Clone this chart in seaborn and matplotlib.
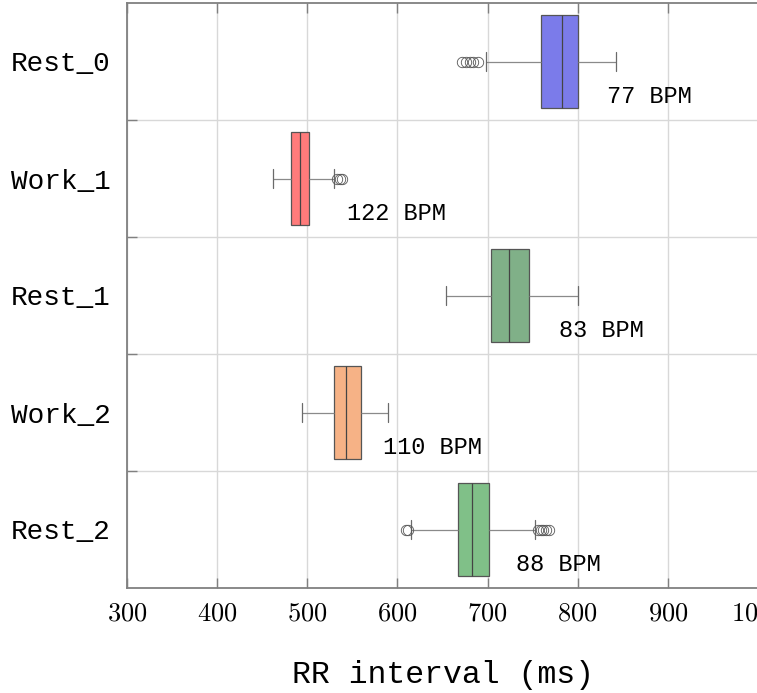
import matplotlib
matplotlib.use("Agg")
import matplotlib.pyplot as plt
import seaborn as sns
import pandas as pd
import numpy as np

# ---- data ----
categories = ["Rest_0", "Work_1", "Rest_1", "Work_2", "Rest_2"]
rest_0 = [672, 676, 680, 684, 689, 698, 759, 764, 769, 773, 777, 780, 783,
          786, 789, 792, 795, 798, 800, 806, 812, 818, 825, 833, 842]
work_1 = [462, 470, 475, 479, 482, 484, 487, 489, 491.5, 494, 496, 499, 502,
          530, 533, 536, 539]
rest_1 = [654, 680, 704, 715, 724, 736, 746, 772, 800]
work_2 = [494, 512, 530, 537, 543, 551, 560, 575, 590]
rest_2 = [610, 612, 615, 630, 645, 657, 667, 670, 673, 676, 679, 681, 682.5,
          685, 689, 693, 697, 700, 702, 753, 756, 759, 762, 765, 768]
bpm_labels = ["77 BPM", "122 BPM", "83 BPM", "110 BPM", "88 BPM"]
x_ticks = [300, 400, 500, 600, 700, 800, 900, 1000]
colors = ["#7b7bea", "#ff7b7b", "#80b088", "#f6b286", "#80c088"]

# annotation anchor (left edge of each label, in ms)
label_x = [832, 544, 779, 584.5, 732]

series = [rest_0, work_1, rest_1, work_2, rest_2]
df = pd.DataFrame({
    "phase": np.concatenate([[c] * len(s) for c, s in zip(categories, series)]),
    "rr": np.concatenate(series),
})

sns.set_style("white")
plt.rcParams["mathtext.fontset"] = "cm"
plt.rcParams["text.color"] = "black"
plt.rcParams["xtick.labelcolor"] = "black"
plt.rcParams["ytick.labelcolor"] = "black"
plt.rcParams["axes.labelcolor"] = "black"
mono = "Liberation Mono"

fig = plt.figure(figsize=(7.57, 6.93), dpi=100)
ax = fig.add_axes([127 / 757, 105 / 693, 631 / 757, 585 / 693])

sns.boxplot(
    data=df, x="rr", y="phase", order=categories, hue="phase",
    hue_order=categories, palette=colors, legend=False, saturation=1,
    width=0.8, orient="h", ax=ax, linewidth=0.9,
    boxprops=dict(edgecolor="#555555"),
    whiskerprops=dict(color="#8a8a8a"),
    capprops=dict(color="#6a6a6a"),
    medianprops=dict(color="#444444"),
    flierprops=dict(marker="o", markerfacecolor="none",
                    markeredgecolor="#555555", markersize=7.5,
                    markeredgewidth=0.6),
    capwidths=0.16,
)

ax.set_xlim(300, 1000)
ax.set_ylim(4.5, -0.5)
ax.set_xticks(x_ticks)
ax.set_xticklabels([f"${v}$" for v in x_ticks], fontsize=19, color="black")
ax.set_yticks(range(len(categories)))
ax.set_yticklabels(categories, fontsize=20, family=mono, color="black")
ax.set_yticks([0.5, 1.5, 2.5, 3.5], minor=True)

ax.grid(True, axis="x", which="major", color="#d8d8d8", linewidth=1)
ax.grid(True, axis="y", which="minor", color="#d8d8d8", linewidth=1)
ax.grid(False, axis="y", which="major")
ax.set_axisbelow(True)

ax.tick_params(axis="x", which="major", direction="in", length=7.5,
               width=1, color="#808080", top=True, bottom=True, pad=9)
ax.tick_params(axis="y", which="major", length=0, pad=12)
ax.tick_params(axis="y", which="minor", direction="in", length=7.5,
               width=1, color="#808080", left=True)
for sp in ax.spines.values():
    sp.set_color("#808080")
    sp.set_linewidth(1.3)

for i, (lx, lab) in enumerate(zip(label_x, bpm_labels)):
    ax.text(lx, i + 0.3, lab, family=mono, fontsize=17, color="black",
            ha="left", va="center")

ax.set_xlabel("RR interval (ms)", family=mono, fontsize=22.7, labelpad=24,
              color="black")
ax.set_ylabel("")

fig.savefig("out.png", dpi=100)
